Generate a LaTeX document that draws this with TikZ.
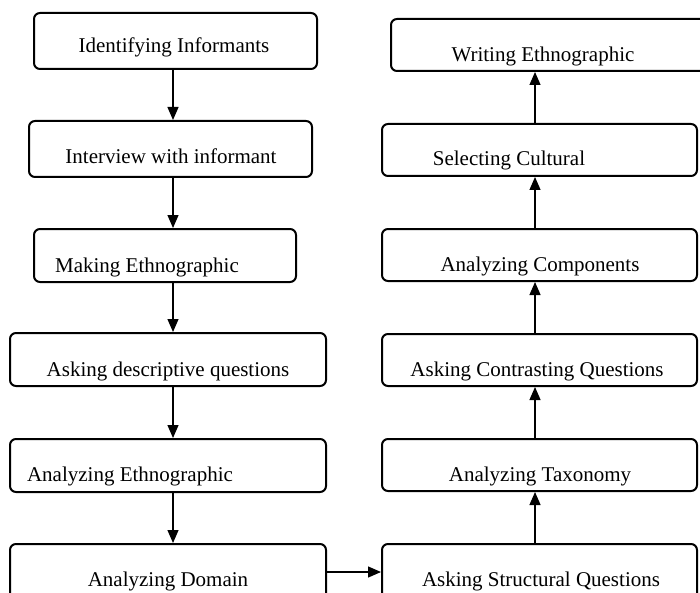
\documentclass[tikz,border=0pt]{standalone}
\usepackage{fontspec}
\setmainfont{Liberation Serif}
\usetikzlibrary{arrows.meta, fit}

\tikzset{
    stage/.style={draw, line width=1pt, rounded corners=3pt, inner sep=0pt},
    lbl/.style={anchor=base, inner sep=0pt, font=\fontsize{10.5}{12.6}\selectfont},
    flow/.style={line width=0.6pt, -{Triangle[length=6.5pt, width=5.5pt]}}
}

\begin{document}
\begin{tikzpicture}[x=0.5pt, y=-0.5pt]
    \useasboundingbox (0,0) rectangle (700,593);
    \clip (0,0) rectangle (700,593);

    % Left column (top to bottom)
    \node[stage, fit={(34,13) (317,69)}] (iden) {};
    \node[stage, fit={(29,121) (312,177)}] (intv) {};
    \node[stage, fit={(34,229) (296,282)}] (mketh) {};
    \node[stage, fit={(10,333) (326,386)}] (askd) {};
    \node[stage, fit={(10,439) (326,492)}] (aneth) {};
    \node[stage, fit={(10,544) (326,625)}] (andom) {};

    \node[lbl] (iden-t) at (174,53) {Identifying Informants};
    \node[lbl] (intv-t) at (171,163) {Interview with informant};
    \node[lbl] (mketh-t) at (147,272) {Making Ethnographic};
    \node[lbl] (askd-t) at (168,376) {Asking descriptive questions};
    \node[lbl] (aneth-t) at (130,481) {Analyzing Ethnographic};
    \node[lbl] (andom-t) at (168,586) {Analyzing Domain};

    % Right column (bottom to top)
    \node[stage, fit={(382,544) (697,625)}] (asks) {};
    \node[stage, fit={(382,439) (697,491)}] (antax) {};
    \node[stage, fit={(382,334) (697,386)}] (askc) {};
    \node[stage, fit={(382,229) (697,281)}] (ancomp) {};
    \node[stage, fit={(382,124) (697,176)}] (selc) {};
    \node[stage, fit={(391,19) (720,71)}] (wreth) {};

    \node[lbl] (asks-t) at (541,586) {Asking Structural Questions};
    \node[lbl] (antax-t) at (540,481) {Analyzing Taxonomy};
    \node[lbl] (askc-t) at (537,376) {Asking Contrasting Questions};
    \node[lbl] (ancomp-t) at (540,271) {Analyzing Components};
    \node[lbl] (selc-t) at (509,166) {Selecting Cultural};
    \node[lbl] (wreth-t) at (543,62) {Writing Ethnographic};

    % Connectors
    \coordinate (lx) at (173,0);
    \coordinate (rx) at (535,0);
    \coordinate (by) at (0,572);
    \foreach \a/\b in {iden/intv, intv/mketh, mketh/askd, askd/aneth, aneth/andom}
        \draw[flow] (\a.south -| lx) -- (\b.north -| lx);
    \foreach \a/\b in {asks/antax, antax/askc, askc/ancomp, ancomp/selc, selc/wreth}
        \draw[flow] (\a.north -| rx) -- (\b.south -| rx);
    \draw[flow] (andom.east |- by) -- (asks.west |- by);
\end{tikzpicture}
\end{document}
